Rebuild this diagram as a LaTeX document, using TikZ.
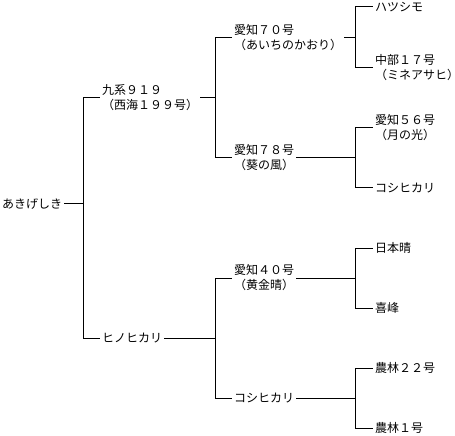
\documentclass[tikz,border=0pt]{standalone}
\usepackage{fontspec}
\newfontfamily\cjk{Noto Sans CJK JP}
\begin{document}
\begin{tikzpicture}[x=1bp,y=-1bp,
  lbl/.style={anchor=west,inner sep=2bp,align=left,font=\cjk\fontsize{12bp}{15bp}\selectfont},
  conn/.style={draw=black,line width=1bp}]
\useasboundingbox (0,0) rectangle (455,436);
% nodes
\node[lbl] (root) at (0,204) {あきげしき};
\node[lbl] (n1) at (100,98) {九系９１９\\（西海１９９号）};
\node[lbl] (n2) at (100,338) {ヒノヒカリ};
\node[lbl] (n11) at (232,38) {愛知７０号\\（あいちのかおり）};
\node[lbl] (n12) at (232,158) {愛知７８号\\（葵の風）};
\node[lbl] (n21) at (232,278) {愛知４０号\\（黄金晴）};
\node[lbl] (n22) at (232,398) {コシヒカリ};
\node[lbl] (l1) at (373,7) {ハツシモ};
\node[lbl] (l2) at (373,68) {中部１７号\\（ミネアサヒ）};
\node[lbl] (l3) at (373,128) {愛知５６号\\（月の光）};
\node[lbl] (l4) at (373,188) {コシヒカリ};
\node[lbl] (l5) at (373,248) {日本晴};
\node[lbl] (l6) at (373,308) {喜峰};
\node[lbl] (l7) at (373,368) {農林２２号};
\node[lbl] (l8) at (373,428) {農林１号};
% junctions
\coordinate (j0) at (83,204);
\coordinate (j1) at (215,98);
\coordinate (j2) at (215,338);
\coordinate (j11) at (355,38);
\coordinate (j12) at (355,158);
\coordinate (j21) at (355,278);
\coordinate (j22) at (355,398);
% connectors
\draw[conn] (root.east) -- (j0);
\draw[conn] (j0) |- (n1.west);
\draw[conn] (j0) |- (n2.west);
\draw[conn] (n1.east) -- (j1);
\draw[conn] (j1) |- (n11.west);
\draw[conn] (j1) |- (n12.west);
\draw[conn] (n2.east) -- (j2);
\draw[conn] (j2) |- (n21.west);
\draw[conn] (j2) |- (n22.west);
\draw[conn] (n11.east) -- (j11);
\draw[conn] (j11) |- (l1.west);
\draw[conn] (j11) |- (l2.west);
\draw[conn] (n12.east) -- (j12);
\draw[conn] (j12) |- (l3.west);
\draw[conn] (j12) |- (l4.west);
\draw[conn] (n21.east) -- (j21);
\draw[conn] (j21) |- (l5.west);
\draw[conn] (j21) |- (l6.west);
\draw[conn] (n22.east) -- (j22);
\draw[conn] (j22) |- (l7.west);
\draw[conn] (j22) |- (l8.west);
\end{tikzpicture}
\end{document}
